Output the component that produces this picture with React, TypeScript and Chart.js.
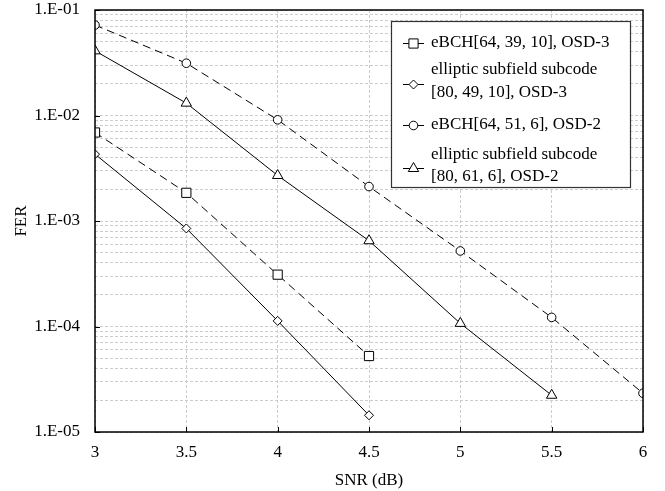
import React, { useEffect, useRef } from "react";
import { Chart, registerables } from "chart.js";

Chart.register(...registerables);

const snr = [3, 3.5, 4, 4.5, 5, 5.5, 6];
const xTicks = [3, 3.5, 4, 4.5, 5, 5.5, 6];
const yDecades = [1e-5, 1e-4, 1e-3, 1e-2, 1e-1];
const yTickLabels = ["1.E-05", "1.E-04", "1.E-03", "1.E-02", "1.E-01"];

const eBCH_64_39 = [6.9e-3, 1.85e-3, 3.1e-4, 5.25e-5];
const elliptic_80_49 = [4.3e-3, 8.5e-4, 1.13e-4, 1.44e-5];
const eBCH_64_51 = [7.2e-2, 3.13e-2, 9.1e-3, 2.12e-3, 5.2e-4, 1.22e-4, 2.33e-5];
const elliptic_80_61 = [4.1e-2, 1.31e-2, 2.7e-3, 6.5e-4, 1.07e-4, 2.23e-5];

const legendLabels: string[][] = [
  ["eBCH[64, 39, 10], OSD-3"],
  ["elliptic subfield subcode", "[80, 49, 10], OSD-3"],
  ["eBCH[64, 51, 6], OSD-2"],
  ["elliptic subfield subcode", "[80, 61, 6], OSD-2"],
];

const FONT = "'Liberation Serif', 'Times New Roman', serif";

function pts(vals: number[]) {
  return vals.map((v, i) => ({ x: snr[i], y: v }));
}

function drawMarker(ctx: CanvasRenderingContext2D, style: string, r: number, x: number, y: number) {
  ctx.beginPath();
  if (style === "rect") {
    const s = Math.SQRT1_2 * r;
    ctx.rect(x - s, y - s, 2 * s, 2 * s);
  } else if (style === "rectRot") {
    ctx.moveTo(x, y - r);
    ctx.lineTo(x + r, y);
    ctx.lineTo(x, y + r);
    ctx.lineTo(x - r, y);
    ctx.closePath();
  } else if (style === "triangle") {
    ctx.moveTo(x, y - r);
    ctx.lineTo(x + r * 0.866, y + r * 0.5);
    ctx.lineTo(x - r * 0.866, y + r * 0.5);
    ctx.closePath();
  } else {
    ctx.arc(x, y, r, 0, Math.PI * 2);
  }
  ctx.fillStyle = "#fff";
  ctx.fill();
  ctx.strokeStyle = "#000";
  ctx.lineWidth = 1;
  ctx.stroke();
}

const frameAndLegend = {
  id: "frameAndLegend",
  afterDraw(chart: any) {
    const { ctx, chartArea } = chart;
    const { left, right, top, bottom } = chartArea;
    const xs = chart.scales.x;
    const ys = chart.scales.y;
    ctx.save();
    ctx.strokeStyle = "#000";
    ctx.lineWidth = 1;
    ctx.setLineDash([]);
    ctx.beginPath();
    xTicks.forEach((t) => {
      const px = Math.round(xs.getPixelForValue(t)) + 0.5;
      ctx.moveTo(px, bottom);
      ctx.lineTo(px, bottom - 5);
    });
    yDecades.forEach((t) => {
      const py = Math.round(ys.getPixelForValue(t)) + 0.5;
      ctx.moveTo(left, py);
      ctx.lineTo(left + 5, py);
    });
    ctx.stroke();
    ctx.lineWidth = 1.5;
    ctx.strokeRect(left, top, right - left, bottom - top);

    const bx = 391, by = 21, bw = 239, bh = 166;
    ctx.fillStyle = "#fff";
    ctx.fillRect(bx, by, bw, bh);
    ctx.strokeStyle = "#333";
    ctx.lineWidth = 1.2;
    ctx.strokeRect(bx + 0.5, by + 0.5, bw, bh);
    ctx.font = "17px " + FONT;
    ctx.textBaseline = "middle";
    ctx.textAlign = "left";
    const entryLines = [[43], [70, 93], [125], [155, 177]];
    const markerY = [43, 84, 125, 168];
    chart.data.datasets.forEach((ds: any, i: number) => {
      const my = markerY[i];
      ctx.strokeStyle = "#000";
      ctx.lineWidth = 1;
      ctx.setLineDash([]);
      ctx.beginPath();
      ctx.moveTo(403, my + 0.5);
      ctx.lineTo(424, my + 0.5);
      ctx.stroke();
      drawMarker(ctx, ds.pointStyle, ds.pointRadius, 413.5, my + 0.5);
      ctx.fillStyle = "#000";
      legendLabels[i].forEach((line, j) => {
        ctx.fillText(line, 431, entryLines[i][j]);
      });
    });
    ctx.restore();
  },
};

export default function App() {
  const ref = useRef<HTMLCanvasElement>(null);
  useEffect(() => {
    document.body.style.margin = "0";
    const mk = (label: string, vals: number[], style: string, radius: number, dashed: boolean) => ({
      label,
      data: pts(vals),
      borderColor: "#000",
      backgroundColor: "#fff",
      borderWidth: 1,
      borderDash: dashed ? [8, 5] : [],
      pointStyle: style,
      pointRadius: radius,
      pointBorderWidth: 1,
      pointBorderColor: "#000",
      pointBackgroundColor: "#fff",
      tension: 0,
      fill: false,
    });
    const chart = new Chart(ref.current!, {
      type: "line",
      data: {
        datasets: [
          mk(legendLabels[0].join(" "), eBCH_64_39, "rect", 6.5, true),
          mk(legendLabels[1].join(" "), elliptic_80_49, "rectRot", 4.5, false),
          mk(legendLabels[2].join(" "), eBCH_64_51, "circle", 4.3, true),
          mk(legendLabels[3].join(" "), elliptic_80_61, "triangle", 6, false),
        ] as any,
      },
      options: {
        animation: false,
        responsive: false,
        maintainAspectRatio: false,
        layout: { padding: { top: 10, right: 22, left: 0, bottom: 0 } },
        plugins: { legend: { display: false }, tooltip: { enabled: false } },
        scales: {
          x: {
            type: "linear",
            min: 3,
            max: 6,
            afterBuildTicks: (s: any) => {
              s.ticks = xTicks.map((v) => ({ value: v }));
            },
            afterFit: (s: any) => {
              s.height = 59;
              s.paddingLeft = 0;
              s.paddingRight = 0;
            },
            ticks: {
              color: "#000",
              font: { family: FONT, size: 17 },
              padding: 10,
              maxRotation: 0,
              callback: (v: any) => String(v),
            },
            grid: {
              drawTicks: false,
              color: "#cccccc",
              lineWidth: 1,
            },
            border: { display: false, dash: [3, 2] },
            title: {
              display: true,
              text: "SNR (dB)",
              color: "#000",
              font: { family: FONT, size: 17 },
              padding: { top: 0, bottom: 0 },
            },
          },
          y: {
            type: "logarithmic",
            min: 1e-5,
            max: 1e-1,
            afterBuildTicks: (s: any) => {
              const t: any[] = [];
              for (let e = -5; e <= -1; e++) {
                for (let m = 1; m <= 9; m++) {
                  const v = m * Math.pow(10, e);
                  if (v > 0.1 + 1e-12) break;
                  t.push({ value: v, major: m === 1 });
                }
              }
              s.ticks = t;
            },
            afterFit: (s: any) => {
              s.width = 95;
              s.paddingTop = 0;
              s.paddingBottom = 0;
            },
            ticks: {
              autoSkip: false,
              color: "#000",
              font: { family: FONT, size: 17 },
              padding: 15,
              callback: (v: any) => {
                const idx = yDecades.findIndex((d) => Math.abs(d - v) / d < 1e-6);
                return idx >= 0 ? yTickLabels[idx] : "";
              },
            },
            grid: {
              drawTicks: false,
              color: "#cccccc",
              lineWidth: 1,
            },
            border: { display: false, dash: [3, 2] },
            title: {
              display: true,
              text: "FER",
              color: "#000",
              font: { family: FONT, size: 17 },
              padding: { top: 11, bottom: 0 },
            },
          },
        },
      } as any,
      plugins: [frameAndLegend],
    });
    return () => chart.destroy();
  }, []);
  return (
    <div style={{ width: 665, height: 491 }}>
      <canvas ref={ref} width={665} height={491} style={{ width: 665, height: 491, display: "block" }} />
    </div>
  );
}
